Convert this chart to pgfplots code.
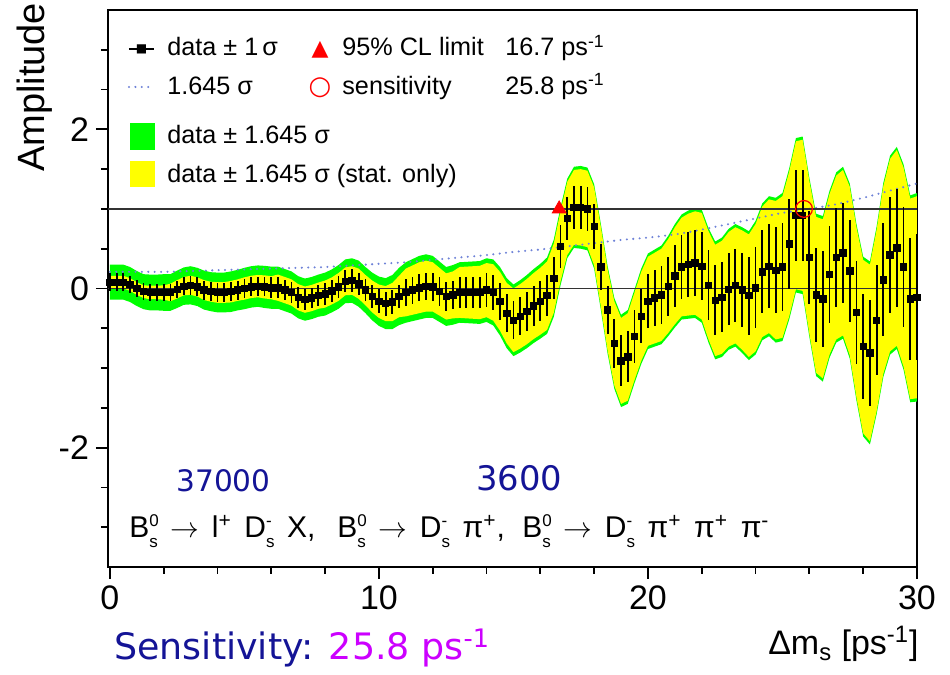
\documentclass[border=0pt]{standalone}
\usepackage{amsmath}
\usepackage{fontspec}
\setmainfont{Liberation Sans}
\newfontfamily\dejavu{DejaVu Sans}
\usepackage{pgfplots}
\pgfplotsset{compat=1.18}
\usepackage{pgfplotstable}
\usepgfplotslibrary{fillbetween}
\definecolor{rgreen}{RGB}{0,255,0}
\definecolor{ryellow}{RGB}{255,255,0}
\definecolor{dotblue}{RGB}{110,130,215}
\definecolor{navy}{RGB}{20,20,150}
\definecolor{mag}{RGB}{204,0,255}
\newcommand{\supsub}[2]{\makebox[0pt][l]{\raisebox{0.37em}{\fontsize{8.5}{8.5}\selectfont #1}}\raisebox{-0.33em}{\fontsize{8.5}{8.5}\selectfont #2}}
\newcommand{\sep}{\hspace{6.3pt}}
\newcommand{\fs}{\fontsize{12.6}{13}\selectfont}

\pgfplotstableread{
X A e gu gl yu yl
0.00 0.08 0.11 0.30 -0.14 0.16 0.00
0.25 0.08 0.11 0.30 -0.14 0.16 0.00
0.50 0.08 0.11 0.30 -0.14 0.16 0.00
0.75 0.05 0.11 0.27 -0.17 0.13 -0.03
1.00 0.00 0.11 0.22 -0.22 0.08 -0.08
1.25 -0.04 0.11 0.18 -0.26 0.04 -0.12
1.50 -0.05 0.11 0.175 -0.275 0.035 -0.135
1.75 -0.05 0.11 0.175 -0.275 0.035 -0.135
2.00 -0.05 0.11 0.18 -0.28 0.04 -0.14
2.25 -0.05 0.11 0.18 -0.28 0.06 -0.16
2.50 -0.01 0.11 0.225 -0.245 0.105 -0.125
2.75 0.03 0.11 0.265 -0.205 0.145 -0.085
3.00 0.04 0.12 0.28 -0.20 0.16 -0.08
3.25 0.02 0.12 0.26 -0.22 0.14 -0.10
3.50 -0.02 0.12 0.225 -0.265 0.105 -0.145
3.75 -0.04 0.12 0.205 -0.285 0.085 -0.165
4.00 -0.05 0.12 0.20 -0.30 0.08 -0.18
4.25 -0.05 0.12 0.20 -0.30 0.08 -0.18
4.50 -0.04 0.12 0.215 -0.295 0.095 -0.175
4.75 -0.02 0.12 0.235 -0.275 0.115 -0.155
5.00 0.00 0.12 0.26 -0.26 0.14 -0.14
5.25 0.02 0.12 0.28 -0.24 0.16 -0.12
5.50 0.03 0.12 0.29 -0.23 0.17 -0.11
5.75 0.02 0.12 0.285 -0.245 0.165 -0.125
6.00 0.01 0.13 0.275 -0.255 0.155 -0.135
6.25 0.01 0.13 0.275 -0.255 0.175 -0.155
6.50 -0.02 0.13 0.245 -0.285 0.145 -0.185
6.75 -0.05 0.13 0.215 -0.315 0.115 -0.215
7.00 -0.11 0.13 0.155 -0.375 0.055 -0.275
7.25 -0.14 0.13 0.125 -0.405 0.025 -0.305
7.50 -0.12 0.13 0.145 -0.385 0.045 -0.285
7.75 -0.09 0.13 0.175 -0.355 0.075 -0.255
8.00 -0.07 0.14 0.20 -0.34 0.10 -0.24
8.25 -0.03 0.14 0.24 -0.30 0.14 -0.20
8.50 0.02 0.14 0.295 -0.255 0.195 -0.155
8.75 0.09 0.14 0.365 -0.185 0.265 -0.085
9.00 0.10 0.14 0.38 -0.18 0.28 -0.08
9.25 0.06 0.14 0.35 -0.23 0.25 -0.13
9.50 -0.02 0.14 0.27 -0.31 0.17 -0.21
9.75 -0.10 0.14 0.20 -0.40 0.10 -0.30
10.00 -0.16 0.15 0.15 -0.47 0.05 -0.37
10.25 -0.19 0.15 0.13 -0.51 0.03 -0.41
10.50 -0.17 0.15 0.17 -0.51 0.07 -0.41
10.75 -0.10 0.15 0.26 -0.46 0.16 -0.36
11.00 -0.05 0.17 0.33 -0.43 0.25 -0.35
11.25 -0.02 0.17 0.37 -0.41 0.29 -0.33
11.50 0.01 0.17 0.41 -0.39 0.33 -0.31
11.75 0.03 0.17 0.43 -0.37 0.35 -0.29
12.00 0.02 0.18 0.41 -0.37 0.33 -0.29
12.25 -0.04 0.18 0.34 -0.42 0.26 -0.34
12.50 -0.10 0.18 0.27 -0.47 0.19 -0.39
12.75 -0.08 0.18 0.295 -0.455 0.215 -0.375
13.00 -0.05 0.19 0.33 -0.43 0.27 -0.37
13.25 -0.05 0.19 0.335 -0.435 0.275 -0.375
13.50 -0.05 0.19 0.34 -0.44 0.28 -0.38
13.75 -0.05 0.19 0.345 -0.445 0.285 -0.385
14.00 -0.02 0.21 0.38 -0.42 0.32 -0.36
14.25 -0.05 0.22 0.365 -0.465 0.305 -0.405
14.50 -0.16 0.23 0.27 -0.59 0.21 -0.53
14.75 -0.31 0.24 0.13 -0.75 0.07 -0.69
15.00 -0.40 0.24 0.05 -0.85 0.00 -0.80
15.25 -0.35 0.24 0.105 -0.805 0.055 -0.755
15.50 -0.29 0.25 0.17 -0.75 0.12 -0.70
15.75 -0.22 0.25 0.245 -0.685 0.195 -0.635
16.00 -0.16 0.25 0.31 -0.63 0.26 -0.58
16.25 -0.09 0.26 0.39 -0.57 0.34 -0.52
16.50 0.13 0.26 0.615 -0.355 0.565 -0.305
16.75 0.53 0.27 1.02 0.04 0.97 0.09
17.00 0.88 0.27 1.38 0.38 1.34 0.42
17.25 1.02 0.27 1.53 0.51 1.49 0.55
17.50 1.02 0.27 1.54 0.50 1.50 0.54
17.75 1.00 0.28 1.52 0.48 1.48 0.52
18.00 0.78 0.28 1.31 0.25 1.27 0.29
18.25 0.27 0.29 0.81 -0.27 0.77 -0.23
18.50 -0.27 0.30 0.28 -0.82 0.24 -0.78
18.75 -0.69 0.31 -0.12 -1.26 -0.16 -1.22
19.00 -0.91 0.32 -0.33 -1.49 -0.37 -1.45
19.25 -0.86 0.32 -0.27 -1.45 -0.31 -1.41
19.50 -0.60 0.33 -0.01 -1.19 -0.05 -1.15
19.75 -0.35 0.34 0.25 -0.95 0.21 -0.91
20.00 -0.16 0.34 0.44 -0.76 0.40 -0.72
20.25 -0.12 0.35 0.49 -0.73 0.45 -0.69
20.50 -0.08 0.36 0.54 -0.70 0.50 -0.66
20.75 0.03 0.37 0.66 -0.60 0.62 -0.56
21.00 0.16 0.39 0.81 -0.49 0.77 -0.45
21.25 0.27 0.40 0.93 -0.39 0.89 -0.35
21.50 0.30 0.41 0.98 -0.38 0.94 -0.34
21.75 0.32 0.42 1.01 -0.37 0.97 -0.33
22.00 0.28 0.43 0.99 -0.43 0.95 -0.39
22.25 0.04 0.44 0.76 -0.68 0.72 -0.64
22.50 -0.15 0.44 0.59 -0.89 0.55 -0.85
22.75 -0.11 0.44 0.64 -0.86 0.60 -0.82
23.00 -0.01 0.45 0.75 -0.77 0.71 -0.73
23.25 0.04 0.46 0.81 -0.73 0.77 -0.69
23.50 -0.02 0.47 0.77 -0.81 0.73 -0.77
23.75 -0.09 0.49 0.72 -0.90 0.68 -0.86
24.00 0.01 0.51 0.85 -0.83 0.81 -0.79
24.25 0.21 0.52 1.07 -0.65 1.03 -0.61
24.50 0.28 0.53 1.16 -0.60 1.12 -0.56
24.75 0.23 0.54 1.14 -0.68 1.10 -0.64
25.00 0.27 0.55 1.20 -0.66 1.16 -0.62
25.25 0.56 0.56 1.51 -0.39 1.47 -0.35
25.50 0.92 0.57 1.89 -0.05 1.85 -0.01
25.75 0.92 0.57 1.91 -0.07 1.87 -0.03
26.00 0.39 0.58 1.39 -0.61 1.35 -0.57
26.25 -0.08 0.59 0.94 -1.10 0.90 -1.06
26.50 -0.13 0.60 0.91 -1.17 0.87 -1.13
26.75 0.18 0.61 1.23 -0.87 1.19 -0.83
27.00 0.39 0.62 1.46 -0.68 1.42 -0.64
27.25 0.45 0.63 1.53 -0.63 1.49 -0.59
27.50 0.22 0.64 1.32 -0.88 1.28 -0.84
27.75 -0.30 0.65 0.81 -1.41 0.77 -1.37
28.00 -0.73 0.66 0.40 -1.86 0.36 -1.82
28.25 -0.81 0.67 0.34 -1.96 0.30 -1.92
28.50 -0.40 0.69 0.78 -1.58 0.74 -1.54
28.75 0.11 0.71 1.33 -1.11 1.29 -1.07
29.00 0.42 0.73 1.67 -0.83 1.63 -0.79
29.25 0.51 0.74 1.78 -0.76 1.74 -0.72
29.50 0.27 0.76 1.56 -1.02 1.52 -0.98
29.75 -0.13 0.77 1.17 -1.43 1.13 -1.39
30.00 -0.11 0.79 1.20 -1.42 1.16 -1.38
}\scan

\pgfplotstableread{
X d
0 0.21
1 0.21
2 0.21
3 0.22
4 0.23
5 0.24
6 0.25
7 0.26
8 0.27
9 0.29
10 0.31
11 0.33
12 0.36
13 0.39
14 0.42
15 0.46
16 0.49
17 0.53
18 0.57
19 0.61
20 0.64
21 0.68
22 0.74
23 0.81
24 0.88
25 0.95
26 1.00
27 1.06
28 1.14
29 1.23
30 1.32
}\sigline

\begin{document}
\begin{tikzpicture}
\begin{axis}[
  at={(0pt,0pt)}, anchor=south west,
  scale only axis, width=404.5pt, height=278.5pt,
  xmin=-0.07, xmax=30, ymin=-3.5, ymax=3.5,
  axis line style={line width=1pt},
  xtick={0,10,20,30}, xticklabels={0,10,20,30},
  minor xtick={2,4,6,8,12,14,16,18,22,24,26,28},
  ytick={-2,0,2}, yticklabels={-2,0,2},
  minor ytick={-3,-2.5,-1.5,-1,-0.5,0.5,1,1.5,2.5,3},
  tick align=outside, xtick pos=left, ytick pos=left,
  major tick length=6pt, minor tick length=3.5pt,
  every tick/.style={black, line width=0.9pt},
  ticklabel style={font=\fontsize{17}{17}\selectfont},
]
\addplot[name path=GU, draw=none, forget plot] table[x=X,y=gu]{\scan};
\addplot[name path=GL, draw=none, forget plot] table[x=X,y=gl]{\scan};
\addplot[rgreen, draw=none] fill between[of=GU and GL];
\addplot[name path=YU, draw=none, forget plot] table[x=X,y=yu]{\scan};
\addplot[name path=YL, draw=none, forget plot] table[x=X,y=yl]{\scan};
\addplot[ryellow, draw=none] fill between[of=YU and YL];
\addplot[dotblue, line width=1.15pt, line cap=round, dash pattern=on 0pt off 3.2pt, smooth] table[x=X,y=d]{\sigline};
\addplot[black!80, line width=0.6pt] coordinates {(-0.07,0) (30,0)};
\addplot[black!80, line width=0.6pt] coordinates {(-0.07,1) (30,1)};
\addplot[black, only marks, mark=square*, mark size=1.6pt,
  error bars/.cd, y dir=both, y explicit, error mark=none,
  error bar style={line width=0.9pt, black}]
  table[x=X, y=A, y error=e]{\scan};
\addplot[red, only marks, mark=triangle*, mark size=4pt] coordinates {(16.7,1.0)};
\addplot[red, only marks, mark=o, mark size=4.2pt, line width=0.6pt] coordinates {(25.8,1.0)};
\end{axis}

% legend
\draw[black, line width=0.9pt] (10.5pt,259pt) -- (23pt,259pt);
\node[font=\dejavu\fontsize{6}{6}\selectfont, inner sep=0pt] at (16.8pt,259pt) {■};
\node[anchor=base west, font=\fs, inner sep=0pt] at (29.5pt,255.5pt) {data ± 1\,σ};
\node[font=\dejavu\fontsize{11}{11}\selectfont, text=red, inner sep=0pt] at (106pt,258.5pt) {▲};
\node[anchor=base west, font=\fs, inner sep=0pt] at (117pt,255.5pt) {95\% CL limit};
\node[anchor=base west, font=\fs, inner sep=0pt] at (198.5pt,255.5pt) {16.7 ps\textsuperscript{-1}};
\draw[dotblue, line width=1.15pt, line cap=round, dash pattern=on 0pt off 3.2pt] (10.5pt,240pt) -- (23pt,240pt);
\node[anchor=base west, font=\fs, inner sep=0pt] at (29.5pt,236.3pt) {1.645 σ};
\node[font=\dejavu\fontsize{13}{13}\selectfont, text=red, inner sep=0pt] at (106pt,239.5pt) {○};
\node[anchor=base west, font=\fs, inner sep=0pt] at (117pt,236.3pt) {sensitivity};
\node[anchor=base west, font=\fs, inner sep=0pt] at (198.5pt,236.3pt) {25.8 ps\textsuperscript{-1}};
\fill[rgreen] (11pt,208.5pt) rectangle (23.5pt,222pt);
\node[anchor=base west, font=\fs, inner sep=0pt] at (29.5pt,211.5pt) {data ± 1.645 σ};
\fill[ryellow] (11pt,190pt) rectangle (23.5pt,203pt);
\node[anchor=base west, font=\fs, inner sep=0pt] at (29.5pt,192.2pt) {data ± 1.645 σ (stat. only)};

% annotations
\node[anchor=base west, font=\dejavu\fontsize{14.8}{15}\selectfont, text=navy, inner sep=0pt] at (34pt,37.5pt) {37000};
\node[anchor=base west, font=\dejavu\fontsize{16.9}{17}\selectfont, text=navy, inner sep=0pt] at (184pt,38pt) {3600};
\node[anchor=base west, font=\fontsize{15}{15}\selectfont, inner sep=0pt] at (10.5pt,14.5pt)
  {B\supsub{0}{s}\sep$\rightarrow$\sep l\textsuperscript{+}\sep D\supsub{-}{s}\sep X,};
\node[anchor=base west, font=\fontsize{15}{15}\selectfont, inner sep=0pt] at (114.5pt,14.5pt)
  {B\supsub{0}{s}\sep$\rightarrow$\sep D\supsub{-}{s}\sep π\textsuperscript{+},};
\node[anchor=base west, font=\fontsize{15}{15}\selectfont, inner sep=0pt] at (207pt,14.5pt)
  {B\supsub{0}{s}\sep$\rightarrow$\sep D\supsub{-}{s}\sep π\textsuperscript{+}\sep π\textsuperscript{+}\sep π\textsuperscript{-}};
\node[anchor=center, rotate=90, font=\fontsize{19}{19}\selectfont, inner sep=0pt] at (-36.5pt,239.75pt) {Amplitude};
\node[anchor=base east, font=\fontsize{17}{17}\selectfont, inner sep=0pt] at (405.5pt,-44pt) {Δm\textsubscript{s} [ps\textsuperscript{-1}]};
\node[anchor=base west, font=\dejavu\fontsize{18.2}{18.5}\selectfont, inner sep=0pt] at (3pt,-46.5pt)
  {\textcolor{navy}{Sensitivity:} \textcolor{mag}{25.8 ps\textsuperscript{-1}}};

\pgfresetboundingbox
\path[use as bounding box] (-54pt,-54pt) rectangle (421pt,283.5pt);
\end{tikzpicture}
\end{document}
